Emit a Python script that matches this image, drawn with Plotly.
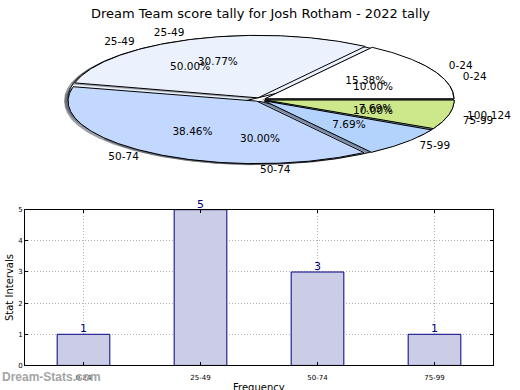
import numpy as np
import plotly.graph_objects as go

# ---------------- data ----------------
title = "Dream Team score tally for Josh Rotham - 2022 tally"
pie_a_labels = ["0-24", "25-49", "50-74", "75-99", "100-124"]
pie_a_values = [2, 4, 5, 1, 1]
pie_a_colors = ["#ffffff", "#ebf2fe", "#c3d8fe", "#b3d3fd", "#cde88a"]

pie_b_labels = ["0-24", "25-49", "50-74", "75-99"]
pie_b_values = [1, 5, 3, 1]
pie_b_colors = ["#ffffff", "#ebf2fe", "#c3d8fe", "#b3d3fd"]

bar_categories = ["0-24", "25-49", "50-74", "75-99"]
bar_values = [1, 5, 3, 1]

# ---------------- geometry (pixels) ----------------
W, H = 520, 390
CX, CY = 260, 97.6        # pie centre
RX, RY = 188.7, 63.8      # ellipse radii
PIE_TOP, PIE_BOT = 20, 190
EXPLODE = 0.03

fig = go.Figure()

def hex_to_rgb(h):
    h = h.lstrip("#")
    return tuple(int(h[i:i + 2], 16) for i in (0, 2, 4))

def wedges(values, explode):
    vals = np.asarray(values, dtype=float)
    frac = vals / vals.sum()
    ends = np.cumsum(frac) * 360.0
    starts = ends - frac * 360.0
    out = []
    for s, e, f in zip(starts, ends, frac):
        mid = np.deg2rad((s + e) / 2)
        ox, oy = explode * np.cos(mid), explode * np.sin(mid)
        th = np.deg2rad(np.linspace(s, e, max(int(e - s) * 2, 8)))
        xs = np.concatenate([[ox], ox + np.cos(th), [ox]])
        ys = np.concatenate([[oy], oy + np.sin(th), [oy]])
        out.append((xs, ys, mid, ox, oy, f))
    return out

def add_pie(values, colors):
    ws = wedges(values, EXPLODE)
    for (xs, ys, mid, ox, oy, f), c in zip(ws, colors):
        r, g, b = hex_to_rgb(c)
        fig.add_trace(go.Scatter(
            x=xs - 0.02, y=ys - 0.02, mode="lines", fill="toself",
            fillcolor=f"rgba({int(r*0.3)},{int(g*0.3)},{int(b*0.3)},0.5)",
            line=dict(width=0), hoverinfo="skip", showlegend=False,
            xaxis="x2", yaxis="y2"))
    for (xs, ys, mid, ox, oy, f), c in zip(ws, colors):
        fig.add_trace(go.Scatter(
            x=xs, y=ys, mode="lines", fill="toself", fillcolor=c,
            line=dict(color="black", width=1), hoverinfo="skip",
            showlegend=False, xaxis="x2", yaxis="y2"))
    return ws

def add_pie_texts(ws, labels):
    for (xs, ys, mid, ox, oy, f), lab in zip(ws, labels):
        c, s = np.cos(mid), np.sin(mid)
        fig.add_trace(go.Scatter(
            x=[ox + 0.6 * c], y=[oy + 0.6 * s], mode="text",
            text=[f"{f*100:.2f}%"], textposition="middle center",
            textfont=dict(family="DejaVu Sans", size=10.5, color="black"),
            hoverinfo="skip", showlegend=False, xaxis="x2", yaxis="y2"))
        fig.add_trace(go.Scatter(
            x=[ox + 1.1 * c], y=[oy + 1.1 * s], mode="text",
            text=[lab], textposition="middle right" if c >= -1e-9 else "middle left",
            textfont=dict(family="DejaVu Sans", size=10.5, color="black"),
            hoverinfo="skip", showlegend=False, xaxis="x2", yaxis="y2"))

wb = add_pie(pie_b_values, pie_b_colors)
wa = add_pie(pie_a_values, pie_a_colors)
add_pie_texts(wb, pie_b_labels)
add_pie_texts(wa, pie_a_labels)

# ---------------- bar chart ----------------
fig.add_trace(go.Bar(
    x=bar_categories, y=bar_values, width=0.45,
    marker=dict(color="#cbcce6", line=dict(color="#000080", width=1)),
    hoverinfo="skip", showlegend=False, xaxis="x", yaxis="y"))

bar_value_annotations = [
    dict(x=c, y=v, xref="x", yref="y", text=str(v), showarrow=False,
         xanchor="center", yanchor="bottom", yshift=-3,
         font=dict(family="DejaVu Sans", size=11, color="#000080"))
    for c, v in zip(bar_categories, bar_values)
]

BX0, BX1, BY0, BY1 = 25, 493, 210, 369
GRID = dict(showgrid=True, gridcolor="#b4b4b4", griddash="1px,2px", gridwidth=1)

fig.update_layout(
    width=W, height=H,
    margin=dict(l=0, r=0, t=0, b=0),
    paper_bgcolor="white", plot_bgcolor="white",
    font=dict(family="DejaVu Sans", color="black"),
    xaxis=dict(
        domain=[BX0 / W, BX1 / W], range=[-0.5, 3.5], type="category",
        showline=True, linecolor="black", linewidth=1, mirror="ticks",
        ticks="inside", ticklen=3, tickcolor="black", ticklabelstandoff=5,
        tickfont=dict(family="DejaVu Sans", size=7, color="black"),
        zeroline=False, anchor="y", **GRID),
    yaxis=dict(
        domain=[(H - BY1) / H, (H - BY0) / H], range=[0, 5],
        dtick=1, showline=True, linecolor="black", linewidth=1, mirror="ticks",
        ticks="inside", ticklen=3, tickcolor="black",
        tickfont=dict(family="DejaVu Sans", size=7, color="black"),
        zeroline=False, anchor="x", **GRID),
    xaxis2=dict(
        domain=[0, 1], range=[-CX / RX, (W - CX) / RX],
        visible=False, anchor="y2"),
    yaxis2=dict(
        domain=[(H - PIE_BOT) / H, (H - PIE_TOP) / H],
        range=[-(PIE_BOT - CY) / RY, (CY - PIE_TOP) / RY],
        visible=False, anchor="x2"),
    annotations=bar_value_annotations + [
        dict(text=title, x=0.5, y=1 - 10 / H, xref="paper", yref="paper",
             xanchor="center", yanchor="middle", showarrow=False,
             font=dict(family="DejaVu Sans", size=13, color="black")),
        dict(text="Stat Intervals", x=9 / W, y=1 - 290 / H, xref="paper",
             yref="paper", xanchor="center", yanchor="middle", textangle=-90,
             showarrow=False,
             font=dict(family="DejaVu Sans", size=10, color="black")),
        dict(text="Frequency", x=259 / W, y=1 - 384 / H, xref="paper",
             yref="paper", xanchor="center", yanchor="top",
             showarrow=False,
             font=dict(family="DejaVu Sans", size=10, color="black")),
        dict(text="<b>Dream-Stats.com</b>", x=0, y=1 - 381 / H, xref="paper",
             yref="paper", xanchor="left", yanchor="middle", showarrow=False,
             font=dict(family="Liberation Sans", size=12, color="#a4a4a4")),
    ],
)

fig.write_html(
    "out.html",
    config={"displayModeBar": False},
    post_script="document.body.style.margin='0';document.body.style.padding='0';",
)
